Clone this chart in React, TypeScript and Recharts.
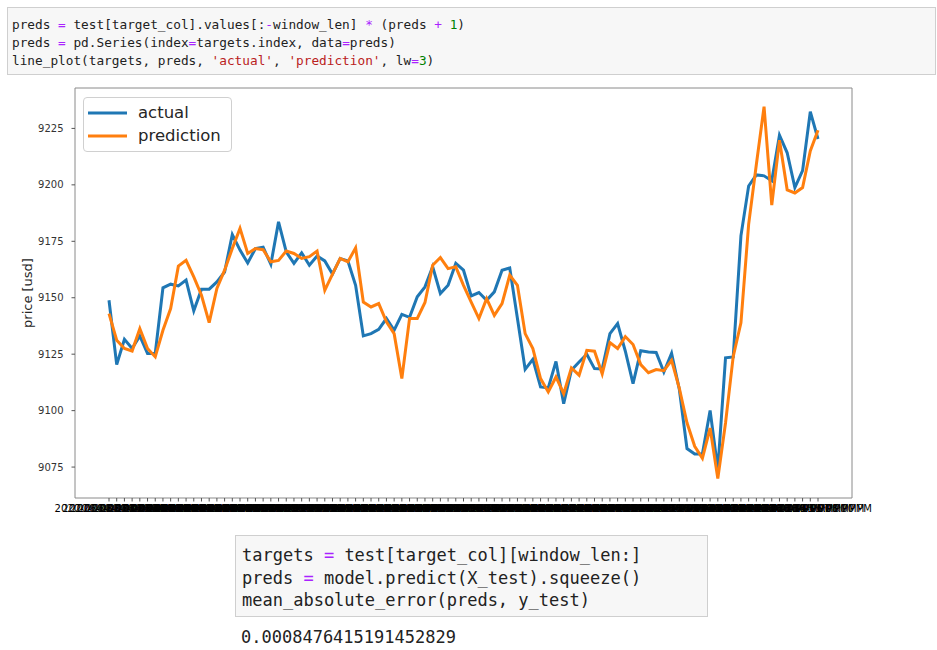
import React from 'react';
import { LineChart, Line, XAxis, YAxis, Legend } from 'recharts';

const days = ['2020-06-08', '2020-06-09', '2020-06-10', '2020-06-11'];
const hours = [
  '12:00 AM', '01:00 AM', '02:00 AM', '03:00 AM', '04:00 AM', '05:00 AM',
  '06:00 AM', '07:00 AM', '08:00 AM', '09:00 AM', '10:00 AM', '11:00 AM',
  '12:00 PM', '01:00 PM', '02:00 PM', '03:00 PM', '04:00 PM', '05:00 PM',
  '06:00 PM', '07:00 PM', '08:00 PM', '09:00 PM', '10:00 PM', '11:00 PM',
];
const pointCount = 93;
const timeLabels = days.flatMap((d) => hours.map((h) => `${d} ${h}`)).slice(0, pointCount);

const actual = [
  9148.9, 9120.4, 9131.6, 9127.5, 9133.1, 9125.3, 9125.3, 9154.4, 9156.0, 9155.2,
  9157.8, 9144.2, 9153.8, 9153.8, 9157.0, 9161.4, 9178.0, 9171.1, 9165.4, 9171.8,
  9172.4, 9164.8, 9183.6, 9170.3, 9165.2, 9169.9, 9164.4, 9168.5, 9166.3, 9160.5,
  9167.4, 9166.3, 9155.5, 9133.1, 9134.1, 9136.0, 9140.8, 9135.6, 9142.6, 9141.3,
  9150.4, 9154.8, 9163.7, 9151.9, 9155.5, 9165.2, 9162.2, 9150.8, 9152.3, 9148.9,
  9152.6, 9162.2, 9163.2, 9140.8, 9118.3, 9122.7, 9110.5, 9110.1, 9121.8, 9103.1,
  9117.9, 9121.5, 9125.0, 9118.6, 9118.5, 9134.1, 9138.6, 9126.3, 9112.0, 9126.5,
  9126.0, 9125.8, 9117.1, 9125.4, 9109.5, 9083.2, 9080.8, 9080.8, 9100.1, 9074.0,
  9123.4, 9123.8, 9177.4, 9199.5, 9204.4, 9204.0, 9201.8, 9222.0, 9214.2, 9198.8,
  9206.3, 9232.4, 9220.3,
];

const prediction = [
  9143.0, 9131.2, 9127.5, 9126.4, 9136.3, 9127.5, 9123.8, 9135.6, 9145.2, 9164.0,
  9166.6, 9159.2, 9151.1, 9139.0, 9154.1, 9162.2, 9171.8, 9180.7, 9169.6, 9171.8,
  9171.3, 9165.9, 9166.5, 9170.7, 9169.6, 9167.4, 9168.2, 9170.7, 9153.3, 9160.5,
  9167.4, 9165.9, 9172.1, 9148.1, 9145.9, 9147.4, 9139.3, 9134.1, 9114.2, 9140.8,
  9140.8, 9147.9, 9164.4, 9167.8, 9162.9, 9163.7, 9155.5, 9148.1, 9140.8, 9149.6,
  9142.2, 9147.4, 9160.0, 9155.5, 9134.1, 9127.5, 9114.2, 9108.3, 9114.9, 9107.5,
  9118.9, 9115.7, 9126.7, 9126.3, 9116.3, 9130.1, 9127.5, 9132.8, 9129.3, 9120.4,
  9116.8, 9118.2, 9117.7, 9122.3, 9110.0, 9094.6, 9084.2, 9078.9, 9092.3, 9069.9,
  9094.5, 9124.0, 9138.9, 9182.5, 9209.0, 9234.6, 9191.0, 9219.8, 9197.8, 9196.4,
  9198.8, 9215.0, 9224.2,
];

const yTicks = [9075, 9100, 9125, 9150, 9175, 9200, 9225];
const yDomain = [9061.3, 9242.9];
const seriesKeys = ['actual', 'prediction'];
const seriesColors = ['#1f77b4', '#ff7f0e'];
const yLabel = 'price [usd]';

const codeCell1 = [
  [['preds ', '#222'], ['=', '#aa22ff'], [' test[target_col].values[:', '#222'], ['-', '#aa22ff'], ['window_len] ', '#222'], ['*', '#aa22ff'], [' (preds ', '#222'], ['+', '#aa22ff'], [' ', '#222'], ['1', '#008000'], [')', '#222']],
  [['preds ', '#222'], ['=', '#aa22ff'], [' pd.Series(index', '#222'], ['=', '#aa22ff'], ['targets.index, data', '#222'], ['=', '#aa22ff'], ['preds)', '#222']],
  [['line_plot(targets, preds, ', '#222'], ["'actual'", '#ba2121'], [', ', '#222'], ["'prediction'", '#ba2121'], [', lw', '#222'], ['=', '#aa22ff'], ['3', '#008000'], [')', '#222']],
];

const codeCell2 = [
  [['targets ', '#222'], ['=', '#aa22ff'], [' test[target_col][window_len:]', '#222']],
  [['preds ', '#222'], ['=', '#aa22ff'], [' model.predict(X_test).squeeze()', '#222']],
  [['mean_absolute_error(preds, y_test)', '#222']],
];

const cellOutput = '0.0008476415191452829';

const data = timeLabels.map((t, i) => ({ t, actual: actual[i], prediction: prediction[i] }));

const mono = '"DejaVu Sans Mono", "Liberation Mono", monospace';
const sans = '"DejaVu Sans", "Liberation Sans", sans-serif';
const frameColor = '#8a8a8a';

function CodeLines({ lines }: { lines: [string, string][][] }) {
  return (
    <>
      {lines.map((line, i) => (
        <div key={i}>
          {line.map(([txt, col], j) => (
            <span key={j} style={{ color: col }}>{txt}</span>
          ))}
        </div>
      ))}
    </>
  );
}

const renderLegend = (props: any) => {
  const payload = props.payload || [];
  return (
    <div
      style={{
        boxSizing: 'border-box',
        width: 149,
        height: 55,
        border: '1px solid #d0d0d0',
        borderRadius: 4,
        background: '#ffffff',
        paddingTop: 3,
        paddingLeft: 4,
      }}
    >
      {payload.map((entry: any, i: number) => (
        <div key={i} style={{ display: 'flex', alignItems: 'center', height: 23 }}>
          <svg width={39} height={6} style={{ display: 'block' }}>
            <line x1={0} y1={3} x2={39} y2={3} stroke={entry.color} strokeWidth={3} />
          </svg>
          <span style={{ marginLeft: 11, fontSize: 16.5, color: '#262626', fontFamily: sans, lineHeight: '23px' }}>
            {entry.value}
          </span>
        </div>
      ))}
    </div>
  );
};

const renderYLabel = (props: any) => {
  const vb = props.viewBox || { x: 15, y: 88, width: 60, height: 410 };
  const cx = vb.x + 12;
  const cy = vb.y + vb.height / 2;
  return (
    <text
      x={cx}
      y={cy}
      transform={`rotate(-90 ${cx} ${cy})`}
      textAnchor="middle"
      dominantBaseline="central"
      fontSize={13}
      fontFamily={sans}
      fill="#262626"
    >
      {yLabel}
    </text>
  );
};

export default function App() {
  return (
    <div style={{ position: 'absolute', left: 0, top: 0, width: 937, height: 650, background: '#ffffff' }}>
      <div style={{ position: 'absolute', left: 0, top: 0 }}>
        <LineChart width={937} height={530} data={data} margin={{ top: 86, right: 83, bottom: 2, left: 15 }}>
          <XAxis
            dataKey="t"
            interval={0}
            padding={{ left: 34, right: 34 }}
            height={30}
            tickSize={3.5}
            tickMargin={3}
            tick={{ fontSize: 10, fill: '#000', fontFamily: sans }}
            stroke={frameColor}
            tickLine={{ stroke: '#555' }}
          />
          <XAxis
            xAxisId="top"
            orientation="top"
            dataKey="t"
            height={2}
            tick={false}
            tickLine={false}
            axisLine={{ stroke: frameColor }}
          />
          <YAxis
            type="number"
            domain={yDomain}
            ticks={yTicks}
            allowDataOverflow
            width={60}
            tickSize={3.5}
            tickMargin={8}
            tick={{ fontSize: 10, fill: '#333', fontFamily: sans }}
            stroke={frameColor}
            tickLine={{ stroke: '#555' }}
            label={{ content: renderYLabel }}
          />
          <YAxis
            yAxisId="right"
            orientation="right"
            type="number"
            domain={[0, 1]}
            width={2}
            tick={false}
            tickLine={false}
            axisLine={{ stroke: frameColor }}
          />
          <Legend
            layout="horizontal"
            verticalAlign="middle"
            align="center"
            content={renderLegend}
            wrapperStyle={{ left: 83, top: 97, width: 149, height: 55 }}
          />
          {seriesKeys.map((k, i) => (
            <Line
              key={k}
              type="linear"
              dataKey={k}
              name={k}
              stroke={seriesColors[i]}
              strokeWidth={3}
              dot={false}
              activeDot={false}
              isAnimationActive={false}
            />
          ))}
        </LineChart>
      </div>

      <div
        style={{
          position: 'absolute',
          left: 7,
          top: 7,
          width: 929,
          height: 68,
          boxSizing: 'border-box',
          background: '#f7f7f7',
          border: '1px solid #cfcfcf',
          paddingTop: 8,
          paddingLeft: 4,
          fontFamily: mono,
          fontSize: 12.75,
          lineHeight: '17.8px',
          whiteSpace: 'pre',
        }}
      >
        <CodeLines lines={codeCell1 as any} />
      </div>

      <div
        style={{
          position: 'absolute',
          left: 235,
          top: 535,
          width: 473,
          height: 82,
          boxSizing: 'border-box',
          background: '#f7f7f7',
          border: '1px solid #cfcfcf',
          paddingTop: 8,
          paddingLeft: 6,
          fontFamily: mono,
          fontSize: 17,
          lineHeight: '22.6px',
          whiteSpace: 'pre',
        }}
      >
        <CodeLines lines={codeCell2 as any} />
      </div>

      <div
        style={{
          position: 'absolute',
          left: 241,
          top: 626,
          fontFamily: mono,
          fontSize: 17,
          lineHeight: '22px',
          color: '#222',
          whiteSpace: 'pre',
        }}
      >
        {cellOutput}
      </div>
    </div>
  );
}
